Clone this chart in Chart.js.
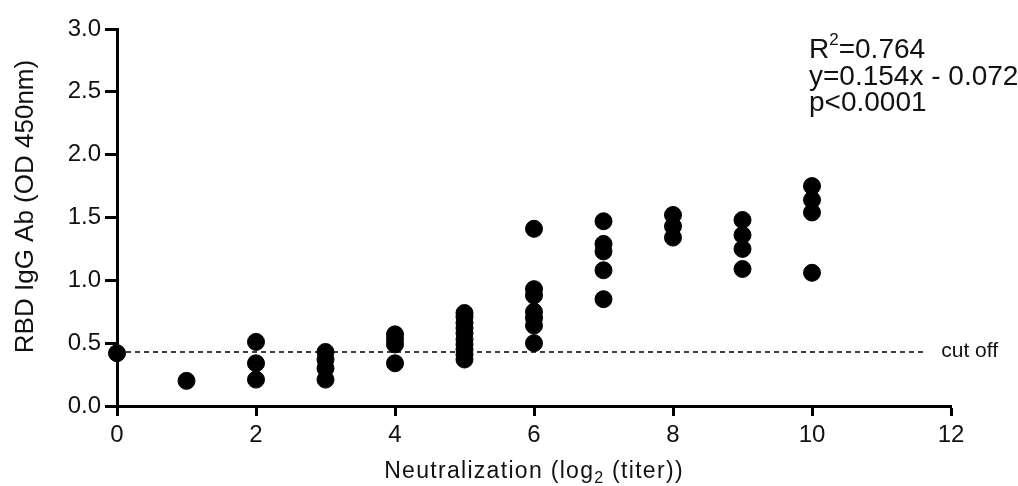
<!DOCTYPE html>
<html>
<head>
<meta charset="utf-8">
<style>
  html, body { margin:0; padding:0; background:#fff; }
  #wrap { width:1018px; height:486px; }
</style>
<script src="https://cdn.jsdelivr.net/npm/chart.js@4.4.0/dist/chart.umd.min.js"></script>
</head>
<body>
<div id="wrap"><canvas id="chart" width="1018" height="486"></canvas></div>
<script>
// dados
var titerLog2 = [0, 1, 2, 3, 4, 5, 6, 7, 8, 9, 10];
var odByTiter = [
  [0.42],
  [0.20],
  [0.51, 0.34, 0.21],
  [0.43, 0.37, 0.30, 0.21],
  [0.57, 0.53, 0.49, 0.34],
  [0.74, 0.71, 0.66, 0.62, 0.58, 0.53, 0.49, 0.45, 0.41, 0.37],
  [1.41, 0.93, 0.88, 0.75, 0.70, 0.64, 0.50],
  [1.47, 1.29, 1.23, 1.08, 0.85],
  [1.52, 1.43, 1.34],
  [1.48, 1.36, 1.25, 1.09],
  [1.75, 1.64, 1.54, 1.06]
];
var cutoffValue = 0.43;
var cutoffRange = [0, 11.6];
var statLines = ['=0.764', 'y=0.154x - 0.072', 'p<0.0001'];
var yTitle = 'RBD IgG Ab (OD 450nm)';
var xTitleParts = ['Neutralization (log', '2', ' (titer))'];

var FONT = "'Liberation Sans', Arial, sans-serif";
var ink = '#111';

var points = [];
titerLog2.forEach(function(x, i) {
  odByTiter[i].forEach(function(y) { points.push({ x: x, y: y }); });
});
var cutoffLine = cutoffRange.map(function(x) { return { x: x, y: cutoffValue }; });

// textos extras: títulos, estatística, "cut off"
var extraText = {
  id: 'extraText',
  afterDraw: function(chart) {
    var ctx = chart.ctx, xs = chart.scales.x, ys = chart.scales.y;
    ctx.save();
    ctx.fillStyle = ink;

    // título do eixo Y
    ctx.save();
    ctx.translate(26, (ys.top + ys.bottom) / 2 - 11);
    ctx.rotate(-Math.PI / 2);
    ctx.font = '26px ' + FONT;
    ctx.textAlign = 'center';
    ctx.textBaseline = 'middle';
    ctx.fillText(yTitle, 0, 0);
    ctx.restore();

    // título do eixo X (com subscrito)
    ctx.textBaseline = 'alphabetic';
    ctx.textAlign = 'left';
    if ('letterSpacing' in ctx) ctx.letterSpacing = '1.3px';
    var big = '23px ' + FONT, small = '16px ' + FONT;
    ctx.font = big;  var w1 = ctx.measureText(xTitleParts[0]).width;
    ctx.font = small; var w2 = ctx.measureText(xTitleParts[1]).width;
    ctx.font = big;  var w3 = ctx.measureText(xTitleParts[2]).width;
    var cx = (xs.left + xs.right) / 2;
    var x0 = cx - (w1 + w2 + w3) / 2, by = 478;
    ctx.fillText(xTitleParts[0], x0, by);
    ctx.font = small; ctx.fillText(xTitleParts[1], x0 + w1, by + 5);
    ctx.font = big;  ctx.fillText(xTitleParts[2], x0 + w1 + w2, by);
    if ('letterSpacing' in ctx) ctx.letterSpacing = '0px';

    // R², equação, p
    var sx = 809;
    ctx.font = '28px ' + FONT;
    ctx.fillText('R', sx, 58);
    var rw = ctx.measureText('R').width;
    ctx.font = '17px ' + FONT;
    ctx.fillText('2', sx + rw, 45);
    var sw = ctx.measureText('2').width;
    ctx.font = '28px ' + FONT;
    ctx.fillText(statLines[0], sx + rw + sw, 58);
    ctx.fillText(statLines[1], sx, 85);
    ctx.fillText(statLines[2], sx, 111);

    // rótulo da linha de corte
    ctx.font = '21px ' + FONT;
    ctx.textBaseline = 'middle';
    ctx.fillText('cut off', xs.getPixelForValue(cutoffRange[1]) + 18, ys.getPixelForValue(cutoffValue) - 1);
    ctx.restore();
  }
};

new Chart(document.getElementById('chart'), {
  type: 'scatter',
  data: {
    datasets: [
      {
        data: points,
        backgroundColor: '#000',
        borderColor: '#000',
        pointRadius: 8.5,
        pointHoverRadius: 8.5,
        clip: false
      },
      {
        data: cutoffLine,
        showLine: true,
        borderColor: '#000',
        borderWidth: 1.5,
        borderDash: [5, 4],
        pointRadius: 0,
        clip: false
      }
    ]
  },
  options: {
    responsive: false,
    animation: false,
    layout: { padding: { top: 29, right: 67, left: 0, bottom: 0 } },
    plugins: { legend: { display: false }, tooltip: { enabled: false } },
    scales: {
      x: {
        type: 'linear', min: 0, max: 12,
        afterFit: function(s) { s.height = 80; },
        border: { display: true, color: '#000', width: 3 },
        grid: { drawOnChartArea: false, drawTicks: true, tickLength: 10, tickWidth: 3, tickColor: '#000' },
        ticks: { stepSize: 2, color: ink, padding: 5, font: { family: FONT, size: 24 }, maxRotation: 0 }
      },
      y: {
        type: 'linear', min: 0, max: 3,
        afterFit: function(s) { s.width = 117; },
        border: { display: true, color: '#000', width: 3 },
        grid: { drawOnChartArea: false, drawTicks: true, tickLength: 12, tickWidth: 3, tickColor: '#000' },
        ticks: {
          stepSize: 0.5, color: ink, padding: 4,
          font: { family: FONT, size: 24 },
          callback: function(v) { return v.toFixed(1); }
        }
      }
    }
  },
  plugins: [extraText]
});
</script>
</body>
</html>
